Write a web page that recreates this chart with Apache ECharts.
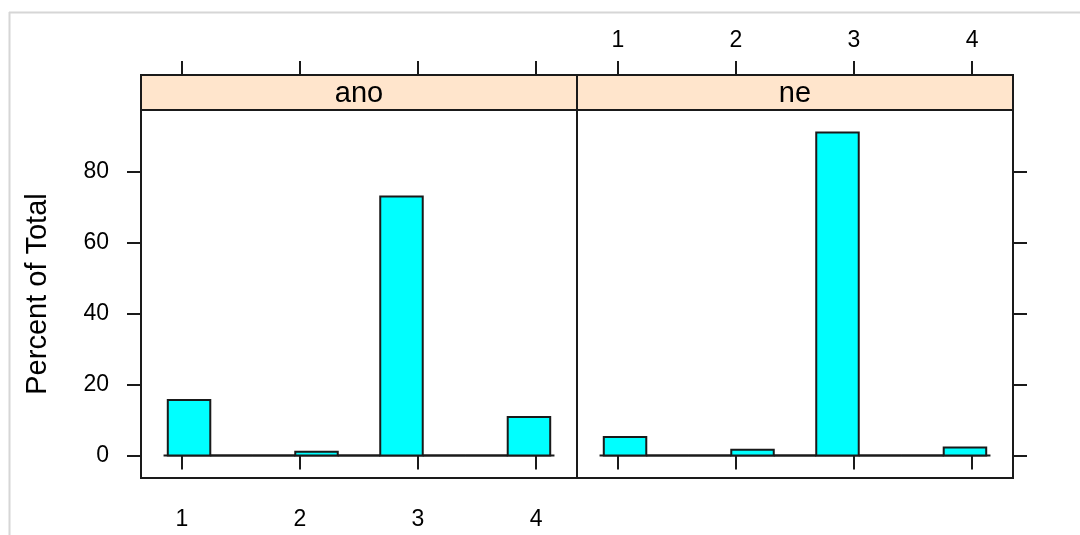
<!DOCTYPE html>
<html><head><meta charset="utf-8">
<script src="https://cdn.jsdelivr.net/npm/echarts@6/dist/echarts.min.js"></script>
<style>html,body{margin:0;padding:0;background:#fff}#c{width:1080px;height:535px}</style>
</head><body><div id="c"></div>
<script>
// ---- data ----
const panels = ['ano', 'ne'];
const binBreaks = [0.88, 1.24, 1.60, 1.96, 2.32, 2.68, 3.04, 3.40, 3.76, 4.12];
const anoPercent = [15.6, 0, 0, 1.0, 0, 72.9, 0, 0, 10.8];
const nePercent = [5.2, 0, 0, 1.6, 0, 90.9, 0, 0, 2.2];
const xTicks = [1, 2, 3, 4];
const yTicks = [0, 20, 40, 60, 80];
const yLabel = 'Percent of Total';
const xRange = [0.653, 4.347];
const yRange = [-6.36, 97.26];

// ---- layout / style ----
const FONT = "'Liberation Sans', Arial, sans-serif";
const LINE = '#1a1a1a';
const LW = 2;
const TICKFONT = 23;
const gridTop = 110, gridH = 368, gridW = 436, grid0Left = 141;
const stripH = 35;
const gridLefts = [grid0Left, grid0Left + gridW];

function binData(pcts) {
  return pcts.map((v, i) => [binBreaks[i], binBreaks[i + 1], v]);
}
const panelData = [anoPercent, nePercent].map(binData);
// baseline slightly wider than the outer breaks (as drawn in the reference)
const binW = binBreaks[1] - binBreaks[0];
const baseExt = binW * 0.1;
const baseline = [[binBreaks[0] - baseExt, 0], [binBreaks[binBreaks.length - 1] + baseExt, 0]];

function renderBin(params, api) {
  const p0 = api.coord([api.value(0), api.value(2)]);
  const p1 = api.coord([api.value(1), 0]);
  return {
    type: 'rect',
    shape: { x: p0[0], y: p0[1], width: p1[0] - p0[0], height: p1[1] - p0[1] },
    style: { fill: '#00ffff', stroke: LINE, lineWidth: LW }
  };
}

function xAxisCfg(gridIndex, position, showLabel, offset, margin) {
  return {
    type: 'value', gridIndex, position, offset: offset || 0,
    min: xRange[0], max: xRange[1],
    axisLine: { show: false },
    splitLine: { show: false },
    axisTick: { show: true, inside: false, length: 14, customValues: xTicks, lineStyle: { color: LINE, width: LW } },
    axisLabel: { show: showLabel, customValues: xTicks, margin: margin || 8, color: '#000', fontFamily: FONT, fontSize: TICKFONT }
  };
}
function yAxisCfg(gridIndex, position, showLabel) {
  const a = {
    type: 'value', gridIndex, position,
    min: yRange[0], max: yRange[1],
    axisLine: { show: false },
    splitLine: { show: false },
    axisTick: { show: true, inside: false, length: 14, customValues: yTicks, lineStyle: { color: LINE, width: LW } },
    axisLabel: { show: showLabel, customValues: yTicks, margin: 32, color: '#000', fontFamily: FONT, fontSize: TICKFONT }
  };
  if (showLabel) {
    a.name = yLabel;
    a.nameLocation = 'middle';
    a.nameGap = 89;
    a.nameTextStyle = { fontSize: 29, color: '#000', fontFamily: FONT };
  }
  return a;
}

const graphics = [
  { type: 'line', shape: { x1: 9, y1: 12.5, x2: 1080, y2: 12.5 }, style: { stroke: '#d6d6d6', lineWidth: 2 } },
  { type: 'line', shape: { x1: 9.5, y1: 12, x2: 9.5, y2: 535 }, style: { stroke: '#d6d6d6', lineWidth: 2 } }
];
panels.forEach((name, i) => {
  graphics.push({
    type: 'rect', z: 10,
    shape: { x: gridLefts[i], y: gridTop - stripH, width: gridW, height: stripH },
    style: { fill: '#ffe5cc', stroke: LINE, lineWidth: LW }
  });
  graphics.push({
    type: 'text', z: 11,
    x: gridLefts[i] + gridW / 2, y: gridTop - stripH / 2 + 1,
    style: { text: name, fontSize: 29, fontFamily: FONT, fill: '#000', align: 'center', verticalAlign: 'middle' }
  });
});

const series = [];
panelData.forEach((d, i) => {
  const xi = i === 0 ? 0 : 2;
  series.push({
    type: 'line', xAxisIndex: xi, yAxisIndex: i, z: 1,
    data: baseline, symbol: 'none', silent: true,
    lineStyle: { color: LINE, width: LW }
  });
  series.push({
    type: 'custom', name: panels[i], z: 2,
    xAxisIndex: xi, yAxisIndex: i,
    renderItem: renderBin,
    encode: { x: [0, 1], y: 2 },
    data: d
  });
});

const option = {
  animation: false,
  backgroundColor: '#fff',
  textStyle: { fontFamily: FONT },
  grid: gridLefts.map(l => ({
    left: l, top: gridTop, width: gridW, height: gridH,
    show: true, borderColor: LINE, borderWidth: LW, backgroundColor: '#fff',
    outerBoundsMode: 'none'
  })),
  xAxis: [
    xAxisCfg(0, 'bottom', true, 0, 30),
    xAxisCfg(0, 'top', false, stripH),
    xAxisCfg(1, 'bottom', false),
    xAxisCfg(1, 'top', true, stripH, 23)
  ],
  yAxis: [
    yAxisCfg(0, 'left', true),
    yAxisCfg(1, 'right', false)
  ],
  series: series,
  graphic: graphics
};

const chart = echarts.init(document.getElementById('c'), null, { renderer: 'canvas' });
chart.setOption(option);
</script>
</body></html>
